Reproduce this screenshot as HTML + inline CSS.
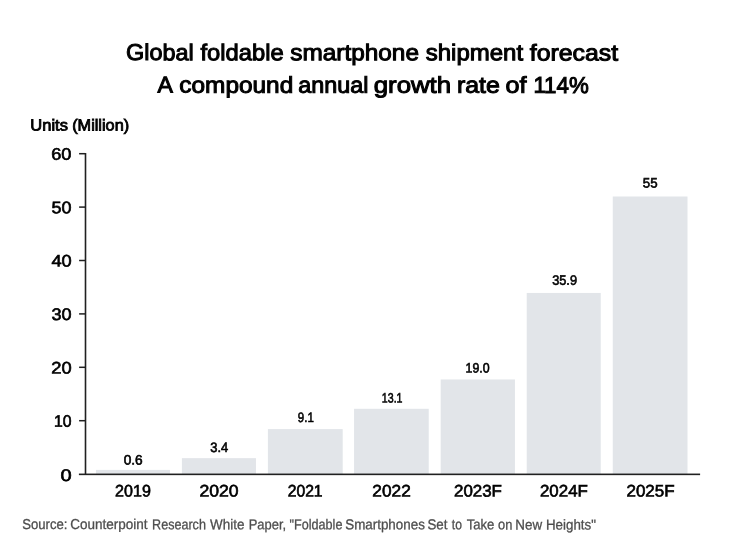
<!DOCTYPE html>
<html lang="en">
<head>
<meta charset="utf-8">
<title>Global foldable smartphone shipment forecast</title>
<style>
html,body{margin:0;padding:0;background:#fff;}
body{width:746px;height:560px;overflow:hidden;}
svg{display:block;font-family:"Liberation Sans",Arial,sans-serif;text-rendering:geometricPrecision;}
.t{fill:#000;stroke:#000;stroke-width:1.0px;font-size:22.9px;}
.ax{fill:#000;stroke:#000;stroke-width:0.65px;font-size:16.7px;}
.v{fill:#000;stroke:#000;stroke-width:0.6px;font-size:13.6px;}
.u{fill:#000;stroke:#000;stroke-width:0.85px;font-size:16px;}
.s{fill:#4e4e4e;stroke:#4e4e4e;stroke-width:0.3px;font-size:14.3px;}
.bar{fill:#e2e5e9;}
</style>
</head>
<body>
<svg width="746" height="560" viewBox="0 0 746 560">
<rect width="746" height="560" fill="#fff"/>
<g class="bar">
<rect x="95.95" y="469.90" width="74.01" height="4.40"/>
<rect x="181.90" y="458.15" width="74.06" height="16.15"/>
<rect x="267.90" y="429.10" width="74.80" height="45.20"/>
<rect x="354.05" y="408.80" width="74.68" height="65.50"/>
<rect x="440.70" y="379.45" width="74.25" height="94.85"/>
<rect x="526.73" y="292.95" width="74.00" height="181.35"/>
<rect x="612.75" y="196.50" width="74.75" height="277.80"/>
</g>
<g fill="#202020">
<rect x="84.7" y="153" width="1.6" height="321.5"/>
<rect x="78.9" y="473.55" width="621.2" height="1.6"/>
<rect x="79.1" y="152.95" width="6" height="1.5"/>
<rect x="79.1" y="206.35" width="6" height="1.5"/>
<rect x="79.1" y="259.75" width="6" height="1.5"/>
<rect x="79.1" y="313.15" width="6" height="1.5"/>
<rect x="79.1" y="366.55" width="6" height="1.5"/>
<rect x="79.1" y="419.95" width="6" height="1.5"/>
</g>

<text class="t" y="60.27" transform="matrix(1,0.0007,0,1,0,-0.253)"><tspan x="126.07" textLength="67.72" lengthAdjust="spacingAndGlyphs">Global</tspan> <tspan x="200.51" textLength="83.27" lengthAdjust="spacingAndGlyphs">foldable</tspan> <tspan x="290.26" textLength="128.71" lengthAdjust="spacingAndGlyphs">smartphone</tspan> <tspan x="425.73" textLength="97.40" lengthAdjust="spacingAndGlyphs">shipment</tspan> <tspan x="529.88" textLength="88.25" lengthAdjust="spacingAndGlyphs">forecast</tspan></text>
<text class="t" y="92.77" transform="matrix(1,0.0007,0,1,0,-0.270)"><tspan x="157.41" textLength="14.14" lengthAdjust="spacingAndGlyphs">A</tspan> <tspan x="179.36" textLength="113.88" lengthAdjust="spacingAndGlyphs">compound</tspan> <tspan x="298.15" textLength="70.26" lengthAdjust="spacingAndGlyphs">annual</tspan> <tspan x="373.73" textLength="77.43" lengthAdjust="spacingAndGlyphs">growth</tspan> <tspan x="456.94" textLength="42.96" lengthAdjust="spacingAndGlyphs">rate</tspan> <tspan x="505.62" textLength="21.00" lengthAdjust="spacingAndGlyphs">of</tspan> <tspan x="533.38" textLength="55.38" lengthAdjust="spacingAndGlyphs">114%</tspan></text>
<text class="u" y="130.52" transform="matrix(1,0.0007,0,1,0,-0.053)"><tspan x="30.35" textLength="37.55" lengthAdjust="spacingAndGlyphs">Units</tspan> <tspan x="72.20" textLength="56.91" lengthAdjust="spacingAndGlyphs">(Million)</tspan></text>
<text class="ax" y="159.77" transform="matrix(1,0.0007,0,1,0,-0.043)"><tspan x="51.26" textLength="20.25" lengthAdjust="spacingAndGlyphs">60</tspan></text>
<text class="ax" y="213.27" transform="matrix(1,0.0007,0,1,0,-0.043)"><tspan x="51.51" textLength="20.04" lengthAdjust="spacingAndGlyphs">50</tspan></text>
<text class="ax" y="266.52" transform="matrix(1,0.0007,0,1,0,-0.043)"><tspan x="51.42" textLength="20.31" lengthAdjust="spacingAndGlyphs">40</tspan></text>
<text class="ax" y="320.02" transform="matrix(1,0.0007,0,1,0,-0.043)"><tspan x="51.43" textLength="20.13" lengthAdjust="spacingAndGlyphs">30</tspan></text>
<text class="ax" y="373.52" transform="matrix(1,0.0007,0,1,0,-0.043)"><tspan x="51.23" textLength="20.37" lengthAdjust="spacingAndGlyphs">20</tspan></text>
<text class="ax" y="426.77" transform="matrix(1,0.0007,0,1,0,-0.044)"><tspan x="54.11" textLength="17.53" lengthAdjust="spacingAndGlyphs">10</tspan></text>
<text class="ax" y="481.02" transform="matrix(1,0.0007,0,1,0,-0.046)"><tspan x="60.61" textLength="11.15" lengthAdjust="spacingAndGlyphs">0</tspan></text>
<text class="ax" y="496.52" transform="matrix(1,0.0007,0,1,0,-0.093)"><tspan x="115.10" textLength="35.75" lengthAdjust="spacingAndGlyphs">2019</tspan></text>
<text class="ax" y="496.52" transform="matrix(1,0.0007,0,1,0,-0.153)"><tspan x="199.48" textLength="39.21" lengthAdjust="spacingAndGlyphs">2020</tspan></text>
<text class="ax" y="496.52" transform="matrix(1,0.0007,0,1,0,-0.214)"><tspan x="287.67" textLength="34.95" lengthAdjust="spacingAndGlyphs">2021</tspan></text>
<text class="ax" y="496.52" transform="matrix(1,0.0007,0,1,0,-0.274)"><tspan x="372.36" textLength="38.39" lengthAdjust="spacingAndGlyphs">2022</tspan></text>
<text class="ax" y="496.52" transform="matrix(1,0.0007,0,1,0,-0.335)"><tspan x="453.97" textLength="48.00" lengthAdjust="spacingAndGlyphs">2023F</tspan></text>
<text class="ax" y="496.52" transform="matrix(1,0.0007,0,1,0,-0.395)"><tspan x="539.98" textLength="47.90" lengthAdjust="spacingAndGlyphs">2024F</tspan></text>
<text class="ax" y="496.52" transform="matrix(1,0.0007,0,1,0,-0.455)"><tspan x="626.47" textLength="48.16" lengthAdjust="spacingAndGlyphs">2025F</tspan></text>
<text class="v" y="464.52" transform="matrix(1,0.0007,0,1,0,-0.093)"><tspan x="123.70" textLength="19.03" lengthAdjust="spacingAndGlyphs">0.6</tspan></text>
<text class="v" y="452.02" transform="matrix(1,0.0007,0,1,0,-0.154)"><tspan x="210.25" textLength="18.00" lengthAdjust="spacingAndGlyphs">3.4</tspan></text>
<text class="v" y="422.02" transform="matrix(1,0.0007,0,1,0,-0.214)"><tspan x="297.79" textLength="16.02" lengthAdjust="spacingAndGlyphs">9.1</tspan></text>
<text class="v" y="402.52" transform="matrix(1,0.0007,0,1,0,-0.275)"><tspan x="381.82" textLength="20.68" lengthAdjust="spacingAndGlyphs">13.1</tspan></text>
<text class="v" y="372.52" transform="matrix(1,0.0007,0,1,0,-0.334)"><tspan x="465.59" textLength="24.08" lengthAdjust="spacingAndGlyphs">19.0</tspan></text>
<text class="v" y="284.77" transform="matrix(1,0.0007,0,1,0,-0.395)"><tspan x="552.13" textLength="24.90" lengthAdjust="spacingAndGlyphs">35.9</tspan></text>
<text class="v" y="187.52" transform="matrix(1,0.0007,0,1,0,-0.455)"><tspan x="642.86" textLength="14.80" lengthAdjust="spacingAndGlyphs">55</tspan></text>
<text class="s" y="529.27" transform="matrix(1,0.0007,0,1,0,-0.243)"><tspan x="22.19" textLength="45.29" lengthAdjust="spacingAndGlyphs">Source:</tspan> <tspan x="70.26" textLength="77.37" lengthAdjust="spacingAndGlyphs">Counterpoint</tspan> <tspan x="152.06" textLength="53.85" lengthAdjust="spacingAndGlyphs">Research</tspan> <tspan x="210.04" textLength="34.33" lengthAdjust="spacingAndGlyphs">White</tspan> <tspan x="248.67" textLength="37.46" lengthAdjust="spacingAndGlyphs">Paper,</tspan> <tspan x="289.59" textLength="52.85" lengthAdjust="spacingAndGlyphs">"Foldable</tspan> <tspan x="345.21" textLength="79.64" lengthAdjust="spacingAndGlyphs">Smartphones</tspan> <tspan x="427.46" textLength="20.03" lengthAdjust="spacingAndGlyphs">Set</tspan> <tspan x="451.81" textLength="10.13" lengthAdjust="spacingAndGlyphs">to</tspan> <tspan x="466.78" textLength="27.63" lengthAdjust="spacingAndGlyphs">Take</tspan> <tspan x="498.09" textLength="14.32" lengthAdjust="spacingAndGlyphs">on</tspan> <tspan x="515.35" textLength="26.78" lengthAdjust="spacingAndGlyphs">New</tspan> <tspan x="545.95" textLength="50.05" lengthAdjust="spacingAndGlyphs">Heights"</tspan></text>
</svg>
</body>
</html>
